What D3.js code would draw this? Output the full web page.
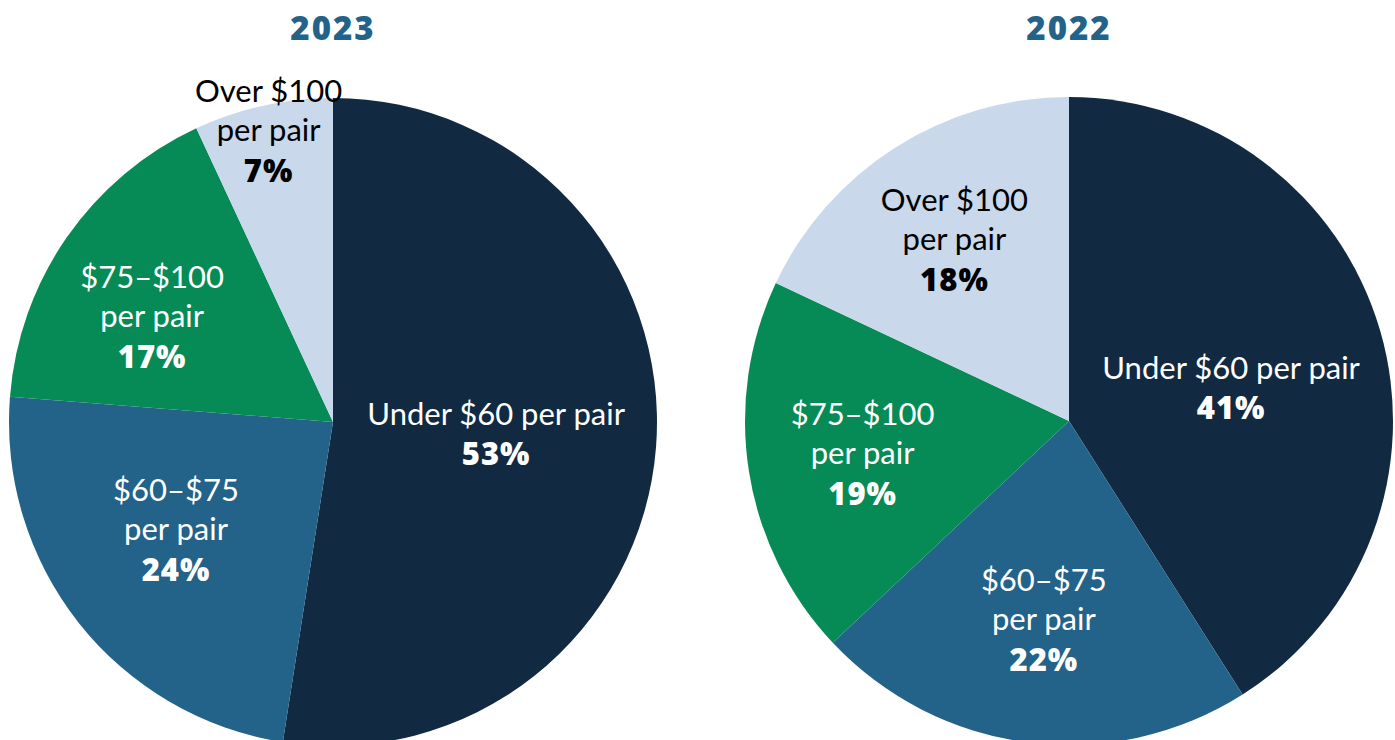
<!DOCTYPE html>
<html>
<head>
<meta charset="utf-8">
<script src="https://cdn.jsdelivr.net/npm/d3@7"></script>
<style>
  body { margin: 0; background: #fff; }
  svg text { font-family: Lato, "Open Sans", sans-serif; }
  .pct, .title { font-family: "Open Sans", Lato, sans-serif; }
</style>
</head>
<body>
<div id="chart"></div>
<script>
var width = 1395, height = 740;

// data
var years = ["2023", "2022"];
var categories = ["Under $60 per pair", "$60\u2013$75 per pair", "$75\u2013$100 per pair", "Over $100 per pair"];
var labelLines = [["Under $60 per pair"], ["$60\u2013$75", "per pair"], ["$75\u2013$100", "per pair"], ["Over $100", "per pair"]];
var values2023 = [53, 24, 17, 7];
var values2022 = [41, 22, 19, 18];

var colors = ["#112a42", "#236289", "#068b57", "#c9d8ea"];
var textColors = ["#fff", "#fff", "#fff", "#000"];

// label placement: [fraction of radius, angle nudge in degrees]
var labelPos = {
  "2023": [[0.505, 0], [0.588, 3.8], [0.645, -4.7], [0.92, 0]],
  "2022": [[0.51, 5], [0.62, 0], [0.645, 0], [0.66, 0]]
};

var pies = [
  {year: "2023", values: values2023, cx: 333, cy: 422},
  {year: "2022", values: values2022, cx: 1069, cy: 421}
];
var radius = 324;

var svg = d3.select("#chart").append("svg")
    .attr("width", width)
    .attr("height", height);

var pie = d3.pie().sort(null).value(function(d) { return d; });
var arc = d3.arc().innerRadius(0).outerRadius(radius);

pies.forEach(function(p) {
  var g = svg.append("g")
      .attr("transform", "translate(" + p.cx + "," + p.cy + ")");

  svg.append("text")
      .attr("class", "title")
      .attr("x", p.cx)
      .attr("y", 40)
      .attr("text-anchor", "middle")
      .attr("fill", "#236289")
      .attr("font-size", 33)
      .attr("font-weight", 800)
      .attr("letter-spacing", 2)
      .text(p.year);

  var arcs = pie(p.values);

  g.selectAll("path")
      .data(arcs)
      .enter()
      .append("path")
      .attr("d", arc)
      .attr("fill", function(d, i) { return colors[i]; });

  var labels = g.selectAll(".lab")
      .data(arcs)
      .enter()
      .append("text")
      .attr("class", "lab")
      .attr("text-anchor", "middle")
      .attr("fill", function(d, i) { return textColors[i]; })
      .attr("font-size", 31)
      .attr("transform", function(d, i) {
        var lp = labelPos[p.year][i];
        var a = (d.startAngle + d.endAngle) / 2 + lp[1] * Math.PI / 180;
        var r = radius * lp[0];
        var lines = labelLines[i].length + 1;
        var y0 = -r * Math.cos(a) - (lines - 1) * 39 / 2 + 10;
        return "translate(" + (r * Math.sin(a)) + "," + y0 + ")";
      });

  labels.each(function(d, i) {
    var t = d3.select(this);
    labelLines[i].forEach(function(line, j) {
      t.append("tspan").attr("x", 0).attr("y", j * 39).text(line);
    });
    t.append("tspan")
        .attr("class", "pct")
        .attr("x", 0)
        .attr("y", labelLines[i].length * 40)
        .attr("font-weight", 800)
        .attr("letter-spacing", 1)
        .text(d.data + "%");
  });
});
</script>
</body>
</html>
